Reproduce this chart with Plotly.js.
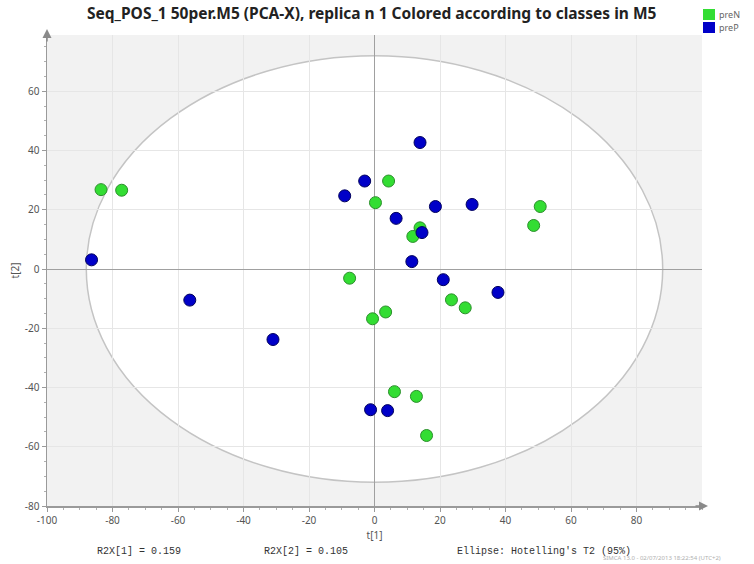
<!DOCTYPE html>
<html>
<head>
<meta charset="utf-8">
<script src="https://cdn.plot.ly/plotly-3.0.1.min.js"></script>
<style>
  html, body { margin: 0; padding: 0; background: #ffffff; }
  #chart { width: 754px; height: 564px; }
</style>
</head>
<body>
<div id="chart"></div>
<script>
// PCA-X score plot, t[1] vs t[2], coloured by class
const classNames = ["preN", "preP"];

const preN_t1 = [-83.5, -77.2, 4.3, 0.3, 50.6, 48.6, 13.9, 11.7, -7.6, 3.4, -0.6, 23.5, 27.7, 6.1, 12.8, 15.9];
const preN_t2 = [26.8, 26.6, 29.7, 22.4, 21.1, 14.7, 13.9, 11.0, -3.1, -14.5, -16.8, -10.4, -13.1, -41.4, -43.0, -56.2];

const preP_t1 = [13.9, -3.0, -9.1, 6.6, 18.6, 29.8, 14.5, 11.4, 21.0, 37.7, -86.4, -56.4, -31.0, -1.2, 4.0];
const preP_t2 = [42.7, 29.7, 24.7, 17.1, 21.1, 21.8, 12.3, 2.5, -3.6, -7.9, 3.1, -10.5, -23.8, -47.5, -47.8];

// Hotelling's T2 (95%) ellipse semi-axes
const ellipseT1 = 88;
const ellipseT2 = 72;

const xTicks = [-100, -80, -60, -40, -20, 0, 20, 40, 60, 80];
const yTicks = [-80, -60, -40, -20, 0, 20, 40, 60];

const summaryTexts = ["R2X[1] = 0.159", "R2X[2] = 0.105", "Ellipse: Hotelling's T2 (95%)"];
const stampText = "SIMCA 13.0 - 02/07/2013 18:22:54 (UTC+2)";

const classColors = { preN: "#33dd33", preP: "#0000c8" };
const classEdges = { preN: "#2b8f2b", preP: "#00005e" };

// plot area in page pixels, used to place the paper-referenced decorations
const M = { l: 47, r: 52, t: 35, b: 58 };
const W = 754, H = 564;
const PW = W - M.l - M.r, PH = H - M.t - M.b;
const px = x => (x - M.l) / PW;
const py = y => (H - M.b - y) / PH;

const traces = [
  {
    type: "scatter", mode: "markers", name: classNames[0],
    x: preN_t1, y: preN_t2, showlegend: false,
    marker: { size: 12, color: classColors.preN, line: { color: classEdges.preN, width: 1 } }
  },
  {
    type: "scatter", mode: "markers", name: classNames[1],
    x: preP_t1, y: preP_t2, showlegend: false,
    marker: { size: 12, color: classColors.preP, line: { color: classEdges.preP, width: 1 } }
  }
];

const shapes = [
  {
    type: "circle", xref: "x", yref: "y", layer: "below",
    x0: -ellipseT1, x1: ellipseT1, y0: -ellipseT2, y1: ellipseT2,
    fillcolor: "#ffffff", line: { color: "#c4c4c4", width: 1.5 }
  },
  // class key
  {
    type: "rect", xref: "paper", yref: "paper",
    x0: px(703), x1: px(715), y0: py(20), y1: py(9),
    fillcolor: classColors.preN, line: { width: 0 }
  },
  {
    type: "rect", xref: "paper", yref: "paper",
    x0: px(703), x1: px(715), y0: py(33), y1: py(22),
    fillcolor: classColors.preP, line: { width: 0 }
  }
];

const smallFont = { family: "Noto Sans, Open Sans, sans-serif", size: 9, color: "#666666" };
const monoFont = { family: "Liberation Mono, DejaVu Sans Mono, monospace", size: 10, color: "#333333" };

const annotations = [
  { xref: "paper", yref: "paper", x: px(717), y: py(14.5), text: classNames[0],
    showarrow: false, xanchor: "left", yanchor: "middle", font: smallFont },
  { xref: "paper", yref: "paper", x: px(717), y: py(27.5), text: classNames[1],
    showarrow: false, xanchor: "left", yanchor: "middle", font: smallFont },
  { xref: "paper", yref: "paper", x: px(95), y: py(551), text: summaryTexts[0],
    showarrow: false, xanchor: "left", yanchor: "middle", font: monoFont },
  { xref: "paper", yref: "paper", x: px(262), y: py(551), text: summaryTexts[1],
    showarrow: false, xanchor: "left", yanchor: "middle", font: monoFont },
  { xref: "paper", yref: "paper", x: px(455), y: py(551), text: summaryTexts[2],
    showarrow: false, xanchor: "left", yanchor: "middle", font: monoFont },
  { xref: "paper", yref: "paper", x: px(601), y: py(558), text: stampText,
    showarrow: false, xanchor: "left", yanchor: "middle",
    font: { family: "Noto Sans, sans-serif", size: 6, color: "#b0b0b0" } },
  // axis arrow heads
  { xref: "paper", yref: "paper", x: px(M.l), y: py(29), ax: 0, ay: 14, text: "",
    showarrow: true, arrowhead: 2, arrowsize: 1.2, arrowwidth: 1.5, arrowcolor: "#8a8a8a" },
  { xref: "paper", yref: "paper", x: px(708), y: py(H - M.b), ax: -14, ay: 0, text: "",
    showarrow: true, arrowhead: 2, arrowsize: 1.2, arrowwidth: 1.5, arrowcolor: "#8a8a8a" }
];

const tickFont = { family: "Noto Sans, Open Sans, sans-serif", size: 10, color: "#555555" };

const axisCommon = {
  showgrid: true, gridcolor: "#e6e6e6", gridwidth: 1,
  zeroline: true, zerolinecolor: "#a0a0a0", zerolinewidth: 1,
  showline: true, linecolor: "#9a9a9a", linewidth: 1.5,
  ticks: "outside", ticklen: 4, tickcolor: "#9a9a9a", tickwidth: 1,
  minor: { dtick: 5, ticks: "outside", ticklen: 2, tickcolor: "#b0b0b0", showgrid: false },
  tickfont: tickFont, tickmode: "array", fixedrange: true
};

const layout = {
  width: W, height: H,
  margin: M,
  paper_bgcolor: "#ffffff",
  plot_bgcolor: "#f2f2f2",
  showlegend: false,
  title: {
    text: "Seq_POS_1 50per.M5 (PCA-X), replica n 1 Colored according to classes in M5",
    font: { family: "Noto Sans, Open Sans, sans-serif", size: 15.5, color: "#222222", weight: "bold" },
    xref: "container", x: 0.493, xanchor: "center",
    yref: "container", y: 1 - 14 / H, yanchor: "middle"
  },
  xaxis: Object.assign({}, axisCommon, {
    range: [-100, 100], tickvals: xTicks, ticktext: xTicks.map(String),
    title: { text: "t[1]", font: tickFont, standoff: 6 }
  }),
  yaxis: Object.assign({}, axisCommon, {
    range: [-80, 79], tickvals: yTicks, ticktext: yTicks.map(String),
    title: { text: "t[2]", font: tickFont, standoff: 3 }
  }),
  shapes: shapes,
  annotations: annotations
};

Plotly.newPlot("chart", traces, layout, { displayModeBar: false, staticPlot: true });
</script>
</body>
</html>
